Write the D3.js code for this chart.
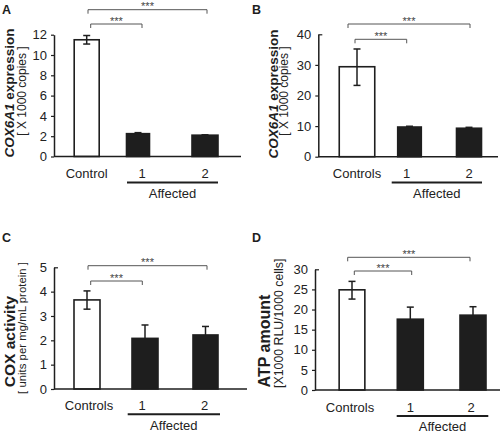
<!DOCTYPE html>
<html><head><meta charset="utf-8">
<script src="https://cdn.jsdelivr.net/npm/d3@7"></script>
<style>body{margin:0;background:#fff}svg{display:block}text{font-family:"Liberation Sans",Arial,sans-serif}</style>
</head><body>
<svg id="c" width="504" height="435"></svg>
<script>
// ---- data ----
const categoriesA = ["Control", "1", "2"];
const categoriesB = ["Controls", "1", "2"];
const categoriesC = ["Controls", "1", "2"];
const categoriesD = ["Controls", "1", "2"];
const groupLabel = "Affected";

const valuesA = [11.5, 2.25, 2.1];
const errUpA = [0.42, 0.1, 0.04];
const errDownA = [0.42, 0, 0];

const valuesB = [29.4, 9.7, 9.3];
const errUpB = [5.8, 0.25, 0.3];
const errDownB = [6.1, 0, 0];

const valuesC = [3.66, 2.08, 2.22];
const errUpC = [0.37, 0.55, 0.35];
const errDownC = [0.38, 0, 0];

const valuesD = [24.9, 17.6, 18.6];
const errUpD = [2.1, 3.0, 2.1];
const errDownD = [2.3, 0, 0];

const ticksA = [0, 2, 4, 6, 8, 10, 12];
const ticksB = [0, 10, 20, 30, 40];
const ticksC = [0, 1, 2, 3, 4, 5];
const ticksD = [0, 5, 10, 15, 20, 25, 30];

const sigLabel = "***";

// ---- layout ----
const panels = [
  {letter:"A", cats:categoriesA, vals:valuesA, up:errUpA, dn:errDownA, ticks:ticksA, max:12,
   lx:2, ly:13.5, ax:54, axEnd:241, y0:156.5, y1:34.7, centers:[86.7,138,205], widths:[25,23,26],
   topCap:false, lblY:177.5, affY:182.5, affX:[127,218], affLblY:197.5, labelDx:[0,4,0],
   title:[{t:"COX6A1", i:true},{t:" expression"}], titleSize:13.5, titleX:14, titleY:93,
   sub:"[ X 1000 copies ]", subSize:12, subX:26, subY:91,
   brackets:[{a:0,b:2,y:9.7,d1:1.3,d2:2},{a:0,b:1,y:24,d1:4,d2:4}]},
  {letter:"B", cats:categoriesB, vals:valuesB, up:errUpB, dn:errDownB, ticks:ticksB, max:40,
   lx:252, ly:13.5, ax:318.3, axEnd:498, y0:156.7, y1:34.3, centers:[357,409.5,469], widths:[35.5,23.6,25],
   topCap:true, lblY:177.5, affY:182.5, affX:[391.7,482], affLblY:197.5, labelDx:[0,-3,0],
   title:[{t:"COX6A1", i:true},{t:" expression"}], titleSize:13.5, titleX:278, titleY:94,
   sub:"[ X 1000 copies ]", subSize:12, subX:287.5, subY:91,
   brackets:[{a:0,b:2,y:24,d1:-9,d2:1},{a:0,b:1,y:39.3,d1:-2,d2:-2.8}]},
  {letter:"C", cats:categoriesC, vals:valuesC, up:errUpC, dn:errDownC, ticks:ticksC, max:5,
   lx:2, ly:241.7, ax:54, axEnd:247, y0:389, y1:267.3, centers:[87,145,205.5], widths:[26,26,25],
   topCap:true, lblY:410, affY:414.3, affX:[127.7,220], affLblY:429.5, labelDx:[2,-3,-1],
   title:[{t:"COX activity"}], titleSize:15.5, titleX:15, titleY:341.5,
   sub:"[ units per mg/mL protein ]", subSize:11.4, subX:26, subY:328,
   brackets:[{a:0,b:2,y:265.7,d1:1,d2:1.5},{a:0,b:1,y:281,d1:3.7,d2:-2.7}]},
  {letter:"D", cats:categoriesD, vals:valuesD, up:errUpD, dn:errDownD, ticks:ticksD, max:30,
   lx:252, ly:241.7, ax:315, axEnd:500, y0:390, y1:269.3, centers:[352,410.3,473], widths:[25.7,26,26],
   topCap:true, lblY:412, affY:416, affX:[396.7,488.3], affLblY:430.5, labelDx:[-2,0,-2],
   title:[{t:"ATP amount"}], titleSize:16, titleX:270, titleY:341,
   sub:"[X1000 RLU/1000 cells]", subSize:12.3, subX:282.5, subY:323.3,
   brackets:[{a:0,b:2,y:257.3,d1:-4.3,d2:-3},{a:0,b:1,y:271,d1:2.3,d2:1.4}]}
];

const svg = d3.select("#c");
const ink = "#1e1e1e";

panels.forEach(p => {
  const g = svg.append("g");
  const y = d3.scaleLinear().domain([0, p.max]).range([p.y0, p.y1]);
  const x = d3.scaleLinear().domain([0, 1, 2]).range(p.centers);
  const idx = p.vals.map((v, i) => i);

  // letter
  g.append("text").attr("x", p.lx).attr("y", p.ly).attr("font-weight", "bold")
    .attr("font-size", 12.5).attr("fill", ink).text(p.letter);

  // y axis
  const yAxis = d3.axisLeft(y).tickValues(p.ticks).tickFormat(d3.format("d"))
    .tickSize(3).tickPadding(4).tickSizeOuter(0);
  const ya = g.append("g").attr("transform", `translate(${p.ax},0)`).call(yAxis);
  ya.select(".domain").attr("stroke", ink).attr("stroke-width", 1.5);
  ya.selectAll(".tick line").attr("stroke", ink).attr("stroke-width", 1.2);
  ya.selectAll(".tick text").attr("font-size", 13).attr("fill", "#222")
    .attr("font-family", "Liberation Sans, Arial, sans-serif");
  if (p.topCap) {
    ya.selectAll(".tick").filter(d => d === p.max).select("line").attr("x2", 4);
  }

  // bars
  g.selectAll("rect.bar").data(idx).join("rect")
    .attr("x", i => x(i) - p.widths[i] / 2)
    .attr("width", i => p.widths[i])
    .attr("y", i => y(p.vals[i]))
    .attr("height", i => y(0) - y(p.vals[i]))
    .attr("fill", i => i === 0 ? "#fff" : ink)
    .attr("stroke", ink).attr("stroke-width", 1.6);

  // error bars
  idx.forEach(i => {
    const top = y(p.vals[i] + p.up[i]);
    const bot = y(p.vals[i] - p.dn[i]);
    const cx = x(i);
    g.append("line").attr("x1", cx).attr("x2", cx).attr("y1", top).attr("y2", bot)
      .attr("stroke", ink).attr("stroke-width", 1.5);
    g.append("line").attr("x1", cx - 3.5).attr("x2", cx + 3.5).attr("y1", top).attr("y2", top)
      .attr("stroke", ink).attr("stroke-width", 1.5);
    if (p.dn[i] > 0) {
      g.append("line").attr("x1", cx - 3.5).attr("x2", cx + 3.5).attr("y1", bot).attr("y2", bot)
        .attr("stroke", ink).attr("stroke-width", 1.5);
    }
  });

  // x axis baseline
  g.append("line").attr("x1", p.ax).attr("x2", p.axEnd).attr("y1", y(0)).attr("y2", y(0))
    .attr("stroke", ink).attr("stroke-width", 1.6);

  // category labels
  g.selectAll("text.cat").data(idx).join("text")
    .attr("x", i => x(i) + p.labelDx[i]).attr("y", p.lblY)
    .attr("text-anchor", "middle").attr("font-size", 13).attr("fill", "#222")
    .text(i => p.cats[i]);

  // affected group line + label
  g.append("line").attr("x1", p.affX[0]).attr("x2", p.affX[1]).attr("y1", p.affY).attr("y2", p.affY)
    .attr("stroke", ink).attr("stroke-width", 2);
  g.append("text").attr("x", (p.affX[0] + p.affX[1]) / 2).attr("y", p.affLblY)
    .attr("text-anchor", "middle").attr("font-size", 13).attr("fill", "#222").text(groupLabel);

  // y titles
  const t = g.append("text")
    .attr("transform", `translate(${p.titleX},${p.titleY}) rotate(-90)`)
    .attr("text-anchor", "middle").attr("font-weight", "bold")
    .attr("font-size", p.titleSize).attr("fill", ink);
  p.title.forEach(s => t.append("tspan").attr("font-style", s.i ? "italic" : "normal").text(s.t));
  g.append("text")
    .attr("transform", `translate(${p.subX},${p.subY}) rotate(-90)`)
    .attr("text-anchor", "middle").attr("font-size", p.subSize).attr("fill", "#222").text(p.sub);

  // significance brackets
  p.brackets.forEach(b => {
    const x1 = x(b.a) + b.d1, x2 = x(b.b) + b.d2;
    g.append("path")
      .attr("d", `M${x1},${b.y + 4}V${b.y}H${x2}V${b.y + 4}`)
      .attr("fill", "none").attr("stroke", "#555").attr("stroke-width", 1);
    g.append("text").attr("x", (x1 + x2) / 2).attr("y", b.y + 0.5)
      .attr("text-anchor", "middle").attr("font-size", 11).attr("fill", "#444").text(sigLabel);
  });
});
</script>
</body></html>
